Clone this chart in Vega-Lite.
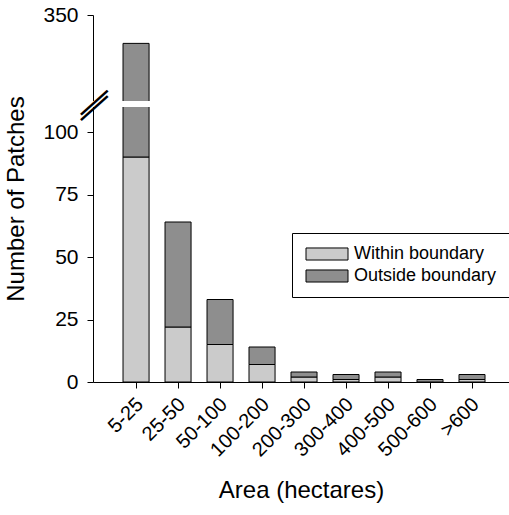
{
  "$schema": "https://vega.github.io/schema/vega-lite/v6.json",
  "width": 416,
  "height": 367,
  "autosize": "none",
  "padding": {"left": 93, "top": 15, "right": 0, "bottom": 133},
  "background": "white",
  "config": {
    "font": "Liberation Sans",
    "view": {"stroke": null},
    "axis": {"domainColor": "black", "tickColor": "black", "labelColor": "black", "titleColor": "black", "grid": false, "zindex": 1}
  },
  "datasets": {
    "bars": [
      {"area": "5-25", "location": "Within boundary", "count": 90},
      {"area": "5-25", "location": "Outside boundary", "count": 227},
      {"area": "25-50", "location": "Within boundary", "count": 22},
      {"area": "25-50", "location": "Outside boundary", "count": 42},
      {"area": "50-100", "location": "Within boundary", "count": 15},
      {"area": "50-100", "location": "Outside boundary", "count": 18},
      {"area": "100-200", "location": "Within boundary", "count": 7},
      {"area": "100-200", "location": "Outside boundary", "count": 7},
      {"area": "200-300", "location": "Within boundary", "count": 2},
      {"area": "200-300", "location": "Outside boundary", "count": 2},
      {"area": "300-400", "location": "Within boundary", "count": 1},
      {"area": "300-400", "location": "Outside boundary", "count": 2},
      {"area": "400-500", "location": "Within boundary", "count": 2},
      {"area": "400-500", "location": "Outside boundary", "count": 2},
      {"area": "500-600", "location": "Within boundary", "count": 0},
      {"area": "500-600", "location": "Outside boundary", "count": 1},
      {"area": ">600", "location": "Within boundary", "count": 1},
      {"area": ">600", "location": "Outside boundary", "count": 2}
    ],
    "one": [{}]
  },
  "layer": [
    {
      "data": {"name": "bars"},
      "mark": {"type": "bar", "stroke": "black", "strokeWidth": 1},
      "encoding": {
        "x": {
          "field": "area", "type": "nominal",
          "sort": ["5-25", "25-50", "50-100", "100-200", "200-300", "300-400", "400-500", "500-600", ">600"],
          "scale": {"paddingInner": 0.38, "paddingOuter": 0.643, "align": 0.556},
          "axis": {
            "title": "Area (hectares)", "titleFontSize": 24, "titleFontWeight": "normal", "titleY": 96,
            "labelAngle": -45, "labelAlign": "right", "labelBaseline": "middle", "labelFontSize": 20, "labelPadding": 13,
            "labelOffset": 4, "tickSize": 6
          }
        },
        "y": {
          "field": "count", "type": "quantitative", "stack": "zero",
          "scale": {"domain": [0, 110, 250, 350], "range": [367, 92, 86, 0], "nice": false, "zero": false},
          "axis": {
            "title": "Number of Patches", "titleFontSize": 24, "titleFontWeight": "normal", "titleX": -65,
            "values": [0, 25, 50, 75, 100, 350], "labelFontSize": 21, "labelPadding": 9, "tickSize": 6
          }
        },
        "color": {
          "field": "location", "type": "nominal",
          "sort": ["Within boundary", "Outside boundary"],
          "scale": {"domain": ["Within boundary", "Outside boundary"], "range": ["#cbcbcb", "#8e8e8e"]},
          "legend": {
            "title": null, "orient": "none", "legendX": 199, "legendY": 218,
            "strokeColor": "black", "padding": 12, "labelFontSize": 18, "labelColor": "black",
            "symbolType": "M-1,-0.86H5V0.86H-1Z", "symbolSize": 196, "symbolStrokeColor": "black", "symbolStrokeWidth": 1,
            "symbolOpacity": 1, "labelOffset": 32, "rowPadding": 4
          }
        }
      }
    },
    {
      "data": {"name": "one"},
      "mark": {"type": "rect", "color": "white"},
      "encoding": {
        "y": {"datum": 110, "type": "quantitative", "title": "Number of Patches"},
        "y2": {"datum": 250}
      }
    },
    {
      "data": {"name": "one"},
      "mark": {"type": "text", "text": "—", "fontSize": 36, "angle": -42, "align": "center", "baseline": "middle", "color": "black"},
      "encoding": {
        "x": {"value": 0},
        "y": {"datum": 118, "type": "quantitative", "title": "Number of Patches"}
      }
    },
    {
      "data": {"name": "one"},
      "mark": {"type": "text", "text": "—", "fontSize": 36, "angle": -42, "align": "center", "baseline": "middle", "color": "black"},
      "encoding": {
        "x": {"value": 0},
        "y": {"datum": 242, "type": "quantitative", "title": "Number of Patches"}
      }
    }
  ]
}
